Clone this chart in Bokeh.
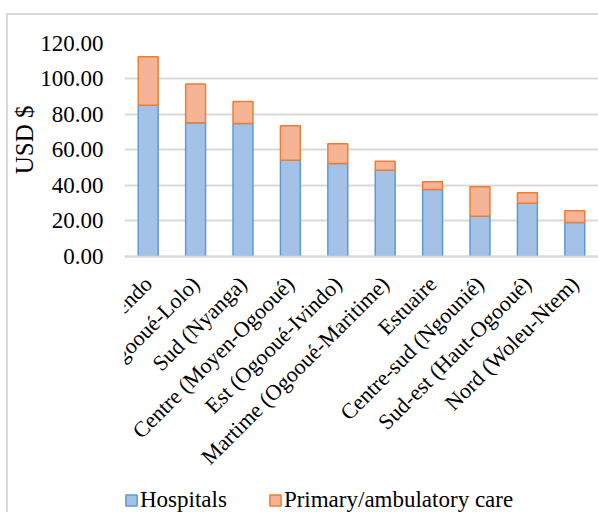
from bokeh.plotting import figure
from bokeh.models import (ColumnDataSource, FactorRange, Range1d, Legend, LegendItem,
                          NumeralTickFormatter, FixedTicker, Title)
from bokeh.embed import file_html
from bokeh.resources import INLINE
import math

categories = ["Libreville/Owendo", "Centre-est (Ogooué-Lolo)", "Sud (Nyanga)",
              "Centre (Moyen-Ogooué)", "Est (Ogooué-Ivindo)", "Martime (Ogooué-Maritime)",
              "Estuaire", "Centre-sud (Ngounié)", "Sud-est (Haut-Ogooué)", "Nord (Woleu-Ntem)"]
hospitals = [85.2, 75.3, 74.9, 54.2, 52.3, 48.5, 37.6, 22.6, 29.9, 19.0]
primary = [27.3, 21.8, 12.4, 19.4, 11.1, 5.1, 4.4, 16.6, 5.9, 6.6]
y_ticks = [0, 20, 40, 60, 80, 100, 120]

source = ColumnDataSource(dict(cat=categories, hosp=hospitals, prim=primary))

FONT = "Liberation Serif"

# layout: value axis 0..120 occupies 213 px; frame extends lower so the legend fits inside it
Y_MAX = 120
PX_PER_UNIT = 212.7 / Y_MAX
FRAME_H = 476
y_start = Y_MAX - FRAME_H / PX_PER_UNIT

p = figure(x_range=FactorRange(*categories), y_range=Range1d(y_start, Y_MAX),
           frame_width=474, frame_height=FRAME_H, output_backend="svg", toolbar_location=None,
           min_border_left=114, min_border_right=0, min_border_top=28, min_border_bottom=0)
p.styles = {"border-left": "2px solid #d9d9d9", "border-top": "2px solid #d9d9d9",
            "margin-top": "13px", "margin-left": "6px"}
p.outline_line_color = None
p.x_range.range_padding = 0

r = p.vbar_stack(["hosp", "prim"], x="cat", width=0.42, source=source,
                 fill_color=["#a4c1e7", "#f6b496"], line_color=["#5b9bd5", "#ed7d31"],
                 line_width=1.5)

p.yaxis.ticker = FixedTicker(ticks=y_ticks)
p.yaxis.formatter = NumeralTickFormatter(format="0.00")
p.yaxis.axis_line_color = None
p.yaxis.major_tick_line_color = None
p.yaxis.minor_tick_line_color = None
p.yaxis.major_label_text_font = FONT
p.yaxis.major_label_text_font_size = "23px"
p.yaxis.major_label_text_color = "#000000"
p.yaxis.major_label_standoff = 15

ylabel = Title(text="USD $", align="right", offset=62, standoff=0,
               text_font=FONT, text_font_size="25px", text_font_style="normal",
               text_color="#000000")
p.add_layout(ylabel, "left")

p.xaxis.fixed_location = y_ticks[0]
p.xaxis.axis_line_color = "#d9d9d9"
p.xaxis.axis_line_width = 2
p.xaxis.major_tick_line_color = None
p.xaxis.minor_tick_line_color = None
p.xaxis.major_label_orientation = math.pi / 4
p.xaxis.major_label_text_font = FONT
p.xaxis.major_label_text_font_size = "22px"
p.xaxis.major_label_text_color = "#000000"
p.xaxis.major_label_standoff = 18

p.xgrid.grid_line_color = None
p.ygrid.grid_line_color = "#d9d9d9"
p.ygrid.grid_line_width = 2

legend = Legend(items=[LegendItem(label="Hospitals", renderers=[r[0]]),
                       LegendItem(label="Primary/ambulatory care", renderers=[r[1]])],
                orientation="horizontal", location=(0, 6))
legend.label_text_font = FONT
legend.label_text_font_size = "23px"
legend.label_text_color = "#000000"
legend.glyph_width = 14
legend.glyph_height = 14
legend.label_standoff = 2
legend.spacing = 41
legend.border_line_color = None
legend.background_fill_alpha = 0
legend.padding = 0
legend.margin = 0
p.add_layout(legend, "center")

open("out.html", "w").write(file_html(p, INLINE))
